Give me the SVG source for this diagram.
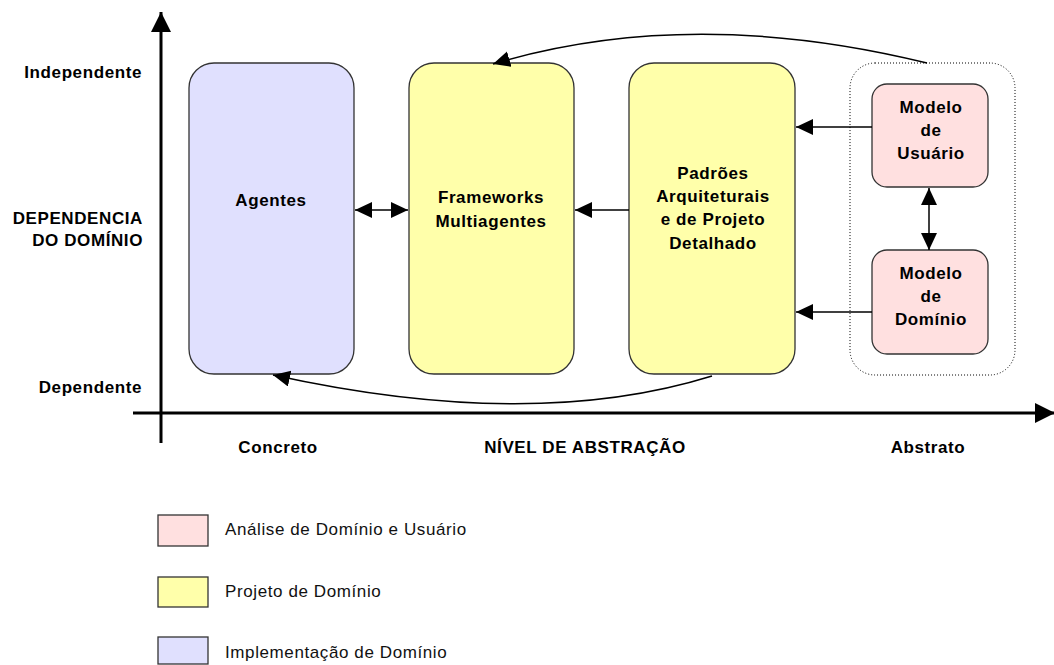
<svg xmlns="http://www.w3.org/2000/svg" width="1054" height="665" viewBox="0 0 1054 665">
  <style>
    .lbl { font-family: "Liberation Sans", Arial, sans-serif; font-size: 17px; font-weight: bold; letter-spacing: 0.6px; fill: #000; }
    .leg { font-family: "Liberation Sans", Arial, sans-serif; font-size: 17px; letter-spacing: 0.6px; fill: #111; }
    .mid { text-anchor: middle; }
    .end { text-anchor: end; }
    .box { stroke: #333; stroke-width: 1.3; }
    .impl { fill: #e0e0fe; }
    .proj { fill: #ffffaa; }
    .anal { fill: #ffe0e0; }
    .axis { stroke: #000; stroke-width: 3; fill: none; }
    .conn { stroke: #000; stroke-width: 1.5; fill: none; }
  </style>
  <defs>
    <marker id="head" markerUnits="userSpaceOnUse" markerWidth="18" markerHeight="18" refX="17" refY="8" orient="auto-start-reverse">
      <path d="M0,0 L17,8 L0,16 Z" fill="#000"/>
    </marker>
    <marker id="axisHead" markerUnits="userSpaceOnUse" markerWidth="22" markerHeight="22" refX="20" refY="10" orient="auto">
      <path d="M0,0 L20,10 L0,20 Z" fill="#000"/>
    </marker>
  </defs>

  <rect width="1054" height="665" fill="#fff"/>

  <!-- axes -->
  <g id="axes">
    <line class="axis" x1="161" y1="443" x2="161" y2="12" marker-end="url(#axisHead)"/>
    <line class="axis" x1="133" y1="413" x2="1055" y2="413" marker-end="url(#axisHead)"/>
    <text class="lbl end" x="142" y="78">Independente</text>
    <text class="lbl end" x="143" y="224">DEPENDENCIA</text>
    <text class="lbl end" x="143" y="246">DO DOMÍNIO</text>
    <text class="lbl end" x="142" y="393">Dependente</text>
    <text class="lbl mid" x="278" y="453">Concreto</text>
    <text class="lbl mid" x="585" y="453">NÍVEL DE ABSTRAÇÃO</text>
    <text class="lbl mid" x="928" y="453">Abstrato</text>
  </g>

  <g id="agentes">
    <rect class="box impl" x="189" y="63" width="165" height="311" rx="25"/>
    <text class="lbl mid" x="271" y="206">Agentes</text>
  </g>

  <g id="frameworks">
    <rect class="box proj" x="409" y="63" width="165" height="311" rx="25"/>
    <text class="lbl mid" x="491" y="203">Frameworks</text>
    <text class="lbl mid" x="491" y="227">Multiagentes</text>
  </g>

  <g id="padroes">
    <rect class="box proj" x="629" y="63" width="166" height="311" rx="25"/>
    <text class="lbl mid" x="713" y="179">Padrões</text>
    <text class="lbl mid" x="713" y="202">Arquiteturais</text>
    <text class="lbl mid" x="713" y="225">e de Projeto</text>
    <text class="lbl mid" x="713" y="249">Detalhado</text>
  </g>

  <g id="analise">
    <rect x="850" y="63" width="165" height="312" rx="25" fill="none" stroke="#000" stroke-width="1" stroke-dasharray="1 2"/>
  </g>

  <g id="modelo-usuario">
    <rect class="box anal" x="872" y="84" width="116" height="103" rx="15"/>
    <text class="lbl mid" x="931" y="113">Modelo</text>
    <text class="lbl mid" x="931" y="136">de</text>
    <text class="lbl mid" x="931" y="159">Usuário</text>
  </g>

  <g id="modelo-dominio">
    <rect class="box anal" x="872" y="250" width="116" height="104" rx="15"/>
    <text class="lbl mid" x="931" y="279">Modelo</text>
    <text class="lbl mid" x="931" y="302">de</text>
    <text class="lbl mid" x="931" y="325">Domínio</text>
  </g>

  <g id="connectors">
    <line class="conn" x1="355" y1="210" x2="408" y2="210" marker-start="url(#head)" marker-end="url(#head)"/>
    <line class="conn" x1="629" y1="210" x2="575" y2="210" marker-end="url(#head)"/>
    <line class="conn" x1="872" y1="127" x2="796" y2="127" marker-end="url(#head)"/>
    <line class="conn" x1="872" y1="312" x2="796" y2="312" marker-end="url(#head)"/>
    <line class="conn" x1="929" y1="188" x2="929" y2="250" marker-start="url(#head)" marker-end="url(#head)"/>
    <path class="conn" d="M927,63 Q690,5 493,64" marker-end="url(#head)"/>
    <path class="conn" d="M712,376 Q532,432 273,375" marker-end="url(#head)"/>
  </g>

  <!-- legend -->
  <g id="legend">
    <rect class="box anal" x="158" y="515" width="50" height="31"/>
    <text class="leg" x="225" y="535">Análise de Domínio e Usuário</text>
    <rect class="box proj" x="158" y="577" width="50" height="30"/>
    <text class="leg" x="225" y="597">Projeto de Domínio</text>
    <rect class="box impl" x="158" y="637" width="50" height="27"/>
    <text class="leg" x="225" y="658">Implementação de Domínio</text>
  </g>
</svg>
